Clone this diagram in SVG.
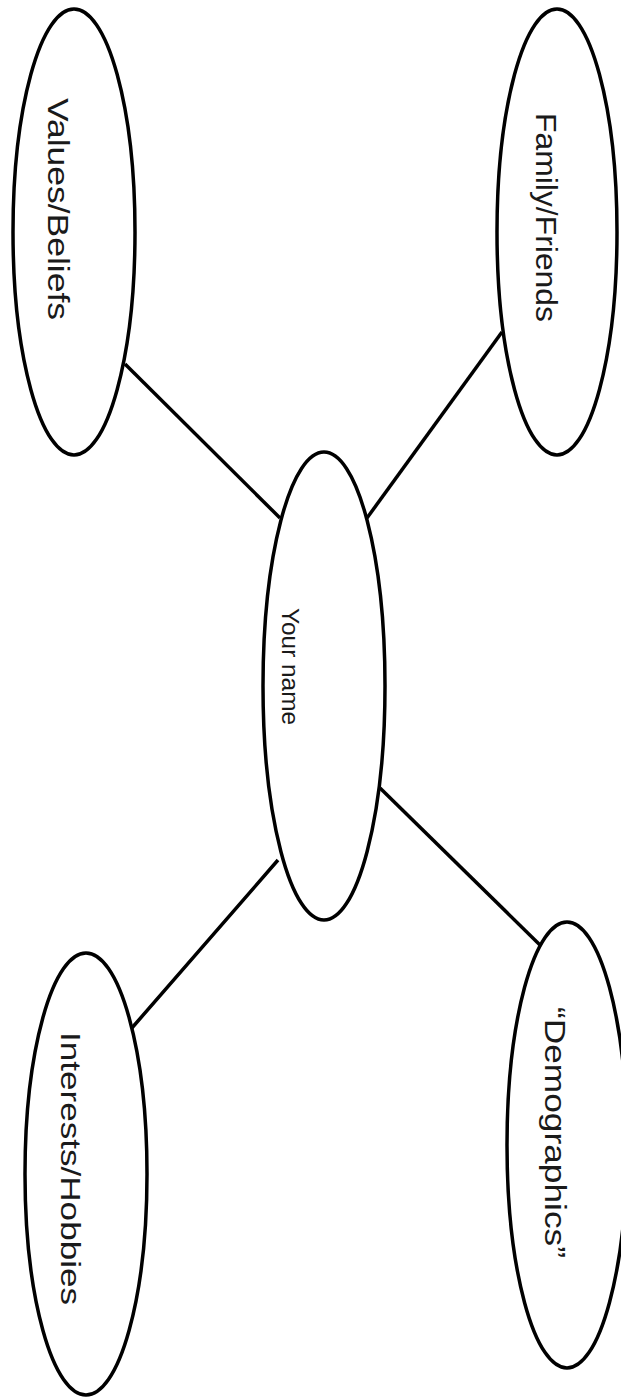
<svg xmlns="http://www.w3.org/2000/svg" width="621" height="1397" viewBox="0 0 621 1397">
<style>
.node{fill:#ffffff;stroke:#000000;stroke-width:3.5}
.edge{fill:none;stroke:#000000;stroke-width:3.5;stroke-linecap:butt}
.lbl{font-family:"Liberation Sans",Arial,sans-serif;fill:#1a1a1a}
</style>
<rect width="621" height="1397" fill="#ffffff"/>
<g id="connectors">
<line class="edge" x1="125" y1="364" x2="280" y2="518"/>
<line class="edge" x1="502" y1="332" x2="367" y2="518"/>
<line class="edge" x1="380" y1="788" x2="540" y2="945"/>
<path class="edge" d="M278 860 L131 1029 M126 1033 L133 1030"/>
</g>
<g id="values">
<ellipse class="node" cx="74" cy="232" rx="61" ry="223"/>
<text class="lbl" font-size="30" textLength="222" lengthAdjust="spacingAndGlyphs" transform="translate(48,98) rotate(90)">Values/Beliefs</text>
</g>
<g id="family">
<ellipse class="node" cx="557" cy="232" rx="60" ry="223"/>
<text class="lbl" font-size="30" textLength="209" lengthAdjust="spacingAndGlyphs" transform="translate(536,113) rotate(90)">Family/Friends</text>
</g>
<g id="center">
<ellipse class="node" cx="324" cy="686" rx="61" ry="234"/>
<text class="lbl" font-size="24" textLength="117" lengthAdjust="spacingAndGlyphs" transform="translate(282,608) rotate(90)">Your name</text>
</g>
<g id="interests">
<ellipse class="node" cx="86" cy="1174" rx="61" ry="221"/>
<text class="lbl" font-size="28" textLength="273" lengthAdjust="spacingAndGlyphs" transform="translate(61,1032) rotate(90)">Interests/Hobbies</text>
</g>
<g id="demographics">
<ellipse class="node" cx="567" cy="1145" rx="60" ry="223"/>
<text class="lbl" font-size="30" textLength="251" lengthAdjust="spacingAndGlyphs" transform="translate(545,1007) rotate(90)">“Demographics”</text>
</g>
</svg>
